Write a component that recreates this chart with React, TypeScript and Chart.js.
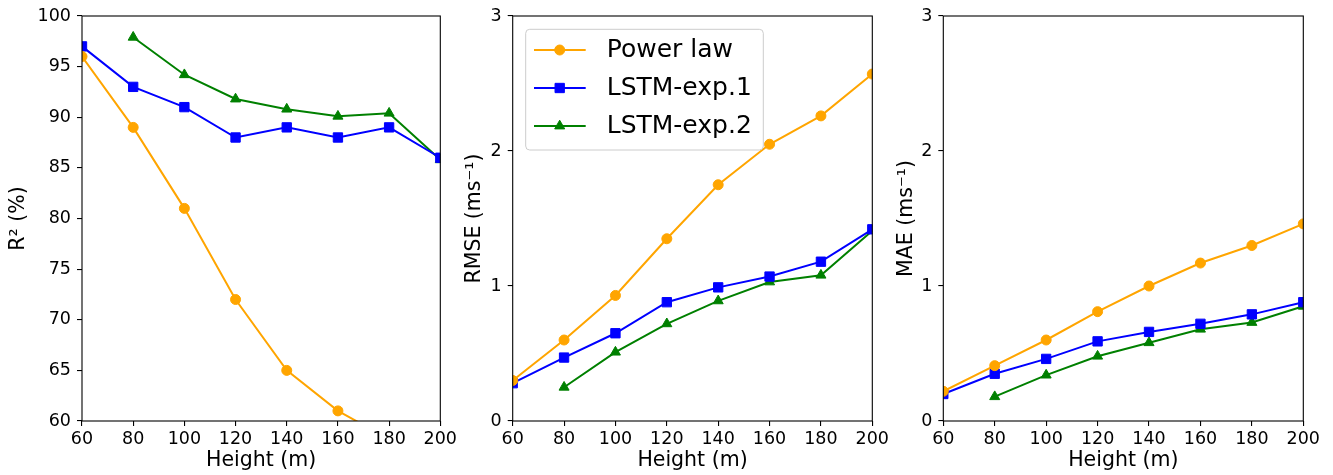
import React, { useEffect, useRef } from "react";
import { Chart, registerables } from "chart.js";
import { drawPoint } from "chart.js/helpers";

Chart.register(...registerables);

// ---------------- data ----------------
const heights = [60, 80, 100, 120, 140, 160, 180, 200];
const seriesNames = ["Power law", "LSTM-exp.1", "LSTM-exp.2"];
const seriesColors = ["#FFA500", "#0000FF", "#008000"];
const seriesMarkers = ["circle", "rect", "triangle"];

const r2PowerLaw = [96, 89, 81, 72, 65, 61, 58.2, 55.5];
const r2Lstm1 = [97, 93, 91, 88, 89, 88, 89, 86];
const r2Lstm2 = [null, 97.9, 94.2, 91.8, 90.8, 90.1, 90.4, 85.8];

const rmsePowerLaw = [0.3, 0.6, 0.93, 1.35, 1.75, 2.05, 2.26, 2.57];
const rmseLstm1 = [0.28, 0.47, 0.65, 0.88, 0.99, 1.07, 1.18, 1.42];
const rmseLstm2 = [null, 0.25, 0.51, 0.72, 0.89, 1.03, 1.08, 1.41];

const maePowerLaw = [0.22, 0.41, 0.6, 0.81, 1.0, 1.17, 1.3, 1.46];
const maeLstm1 = [0.2, 0.35, 0.46, 0.59, 0.66, 0.72, 0.79, 0.88];
const maeLstm2 = [null, 0.18, 0.34, 0.48, 0.58, 0.68, 0.73, 0.85];

const xTitle = "Height (m)";
const yTitles = ["R\u00B2 (%)", "RMSE (ms\u207B\u00B9)", "MAE (ms\u207B\u00B9)"];

// ---------------- layout ----------------
const FIG_W = 1333;
const FIG_H = 475;
const PLOT_TOP = 16;
const PLOT_BOTTOM = 421;
const FONT = "'DejaVu Sans', sans-serif";
const TICK_SIZE = 17.5;
const TITLE_SIZE = 20.5;
const LEGEND_SIZE = 25;

const panels = [
  { values: [r2PowerLaw, r2Lstm1, r2Lstm2], yMin: 60, yMax: 100, yStep: 5, left: 82, right: 440.3, titleX: 19, legend: false },
  { values: [rmsePowerLaw, rmseLstm1, rmseLstm2], yMin: 0, yMax: 3, yStep: 1, left: 512.7, right: 872.3, titleX: 475, legend: true },
  { values: [maePowerLaw, maeLstm1, maeLstm2], yMin: 0, yMax: 3, yStep: 1, left: 943.3, right: 1303.3, titleX: 906.7, legend: false },
];

const frameAndLegend = {
  id: "frameAndLegend",
  afterDatasetsDraw(chart: any, _args: any, opts: any) {
    const { ctx, chartArea } = chart;
    ctx.save();
    ctx.strokeStyle = "#000000";
    ctx.lineWidth = 1.1;
    ctx.strokeRect(chartArea.left, chartArea.top, chartArea.right - chartArea.left, chartArea.bottom - chartArea.top);
    ctx.restore();
    if (!opts || !opts.show) return;
    const x0 = chartArea.left + 13;
    const y0 = chartArea.top + 13.3;
    const w = 237.6;
    const h = 120.7;
    ctx.save();
    ctx.beginPath();
    ctx.roundRect(x0, y0, w, h, 4);
    ctx.fillStyle = "rgba(255,255,255,0.8)";
    ctx.fill();
    ctx.strokeStyle = "#cccccc";
    ctx.lineWidth = 1;
    ctx.stroke();
    chart.data.datasets.forEach((ds: any, i: number) => {
      const cy = y0 + 20.7 + i * 38;
      ctx.beginPath();
      ctx.strokeStyle = ds.borderColor;
      ctx.lineWidth = ds.borderWidth;
      ctx.moveTo(x0 + 8.3, cy);
      ctx.lineTo(x0 + 60, cy);
      ctx.stroke();
      ctx.fillStyle = ds.pointBackgroundColor;
      ctx.strokeStyle = ds.pointBorderColor;
      ctx.lineWidth = ds.pointBorderWidth;
      drawPoint(ctx, { pointStyle: ds.pointStyle, radius: ds.pointRadius, rotation: 0, borderWidth: ds.pointBorderWidth }, x0 + 34, cy);
      ctx.fillStyle = "#000000";
      ctx.font = `${LEGEND_SIZE}px ${FONT}`;
      ctx.textAlign = "left";
      ctx.textBaseline = "middle";
      ctx.fillText(ds.label, x0 + 81, cy);
    });
    ctx.restore();
  },
};

const markerRadius: Record<string, number> = { circle: 5, rect: 6.6, triangle: 5.8 };

function Panel({ index }: { index: number }) {
  const ref = useRef<HTMLCanvasElement | null>(null);
  useEffect(() => {
    const p = panels[index];
    const titleLine = TITLE_SIZE * 1.2;
    const padLeft = p.titleX - titleLine / 2;
    const yWidth = p.left - padLeft;
    const datasets = p.values.map((vals, si) => ({
      label: seriesNames[si],
      data: heights
        .map((h, k) => ({ x: h, y: vals[k] }))
        .filter((pt) => pt.y !== null && pt.y !== undefined),
      borderColor: seriesColors[si],
      backgroundColor: seriesColors[si],
      pointBackgroundColor: seriesColors[si],
      pointBorderColor: seriesColors[si],
      pointBorderWidth: 1,
      borderWidth: 2,
      pointStyle: seriesMarkers[si],
      pointRadius: markerRadius[seriesMarkers[si]],
      tension: 0,
    }));
    const chart = new Chart(ref.current as HTMLCanvasElement, {
      type: "line",
      data: { datasets },
      plugins: [frameAndLegend],
      options: {
        animation: false,
        responsive: false,
        events: [],
        layout: {
          padding: { left: padLeft, right: FIG_W - p.right, top: PLOT_TOP, bottom: 0 },
        },
        plugins: {
          legend: { display: false },
          tooltip: { enabled: false },
          frameAndLegend: { show: p.legend },
        } as any,
        scales: {
          x: {
            type: "linear",
            min: 60,
            max: 200,
            border: { display: false },
            grid: { display: true, drawOnChartArea: false, drawTicks: true, tickLength: 5, color: "#000000", lineWidth: 1.1 },
            ticks: { stepSize: 20, autoSkip: false, maxRotation: 0, padding: 3, color: "#000000", font: { family: FONT, size: TICK_SIZE } },
            title: { display: true, text: xTitle, color: "#000000", font: { family: FONT, size: TITLE_SIZE }, padding: { top: 0, bottom: 1.9 } },
            afterFit: (scale: any) => {
              scale.height = FIG_H - PLOT_BOTTOM;
              scale.paddingLeft = 0;
              scale.paddingRight = 0;
            },
          },
          y: {
            type: "linear",
            min: p.yMin,
            max: p.yMax,
            border: { display: false },
            grid: { display: true, drawOnChartArea: false, drawTicks: true, tickLength: 5, color: "#000000", lineWidth: 1.1 },
            ticks: { stepSize: p.yStep, autoSkip: false, padding: 6, color: "#000000", font: { family: FONT, size: TICK_SIZE } },
            title: { display: true, text: yTitles[index], color: "#000000", font: { family: FONT, size: TITLE_SIZE }, padding: { top: 0, bottom: 0 } },
            afterFit: (scale: any) => {
              scale.width = yWidth;
              scale.paddingTop = 0;
              scale.paddingBottom = 0;
            },
          },
        },
      } as any,
    });
    return () => chart.destroy();
  }, [index]);
  return (
    <canvas
      ref={ref}
      width={FIG_W}
      height={FIG_H}
      style={{ position: "absolute", left: 0, top: 0, width: FIG_W, height: FIG_H }}
    />
  );
}

export default function App() {
  return (
    <div style={{ position: "fixed", left: 0, top: 0, width: FIG_W, height: FIG_H, background: "#ffffff" }}>
      {panels.map((_, i) => (
        <Panel key={i} index={i} />
      ))}
    </div>
  );
}
